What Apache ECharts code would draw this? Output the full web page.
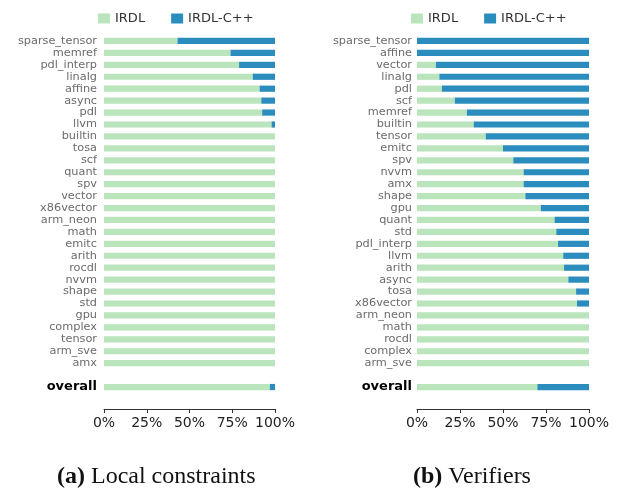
<!DOCTYPE html>
<html>
<head>
<meta charset="utf-8">
<script src="https://cdn.jsdelivr.net/npm/echarts@6/dist/echarts.min.js"></script>
<style>
html,body{margin:0;padding:0;background:#fff;}
#c{width:620px;height:494px;}
</style>
</head>
<body>
<div id="c"></div>
<script>
// ---- data ----
const localCategories = ['sparse_tensor','memref','pdl_interp','linalg','affine','async','pdl','llvm','builtin','tosa','scf','quant','spv','vector','x86vector','arm_neon','math','emitc','arith','rocdl','nvvm','shape','std','gpu','complex','tensor','arm_sve','amx','','overall'];
const localIRDL = [43,74,79,87,91,92,92.5,98,100,100,100,100,100,100,100,100,100,100,100,100,100,100,100,100,100,100,100,100,null,97];
const localCpp  = [57,26,21,13,9,8,7.5,2,0,0,0,0,0,0,0,0,0,0,0,0,0,0,0,0,0,0,0,0,null,3];

const verifCategories = ['sparse_tensor','affine','vector','linalg','pdl','scf','memref','builtin','tensor','emitc','spv','nvvm','amx','shape','gpu','quant','std','pdl_interp','llvm','arith','async','tosa','x86vector','arm_neon','math','rocdl','complex','arm_sve','','overall'];
const verifIRDL = [0,0,11,13,14.5,22,29,33,40,50,56,62,62,63,72,80,81,82,85,85.5,88,92.5,93,100,100,100,100,100,null,70];
const verifCpp  = [100,100,89,87,85.5,78,71,67,60,50,44,38,38,37,28,20,19,18,15,14.5,12,7.5,7,0,0,0,0,0,null,30];

const xTicks = [0,25,50,75,100];
const seriesNames = ['IRDL','IRDL-C++'];
const captions = ['(a)', 'Local constraints', '(b)', 'Verifiers'];

const GREEN = '#bae4bc', BLUE = '#2b8cbe';

function yAxis(gridIndex, cats, margin){
  return {
    type:'category', gridIndex, data:cats, inverse:true,
    axisLine:{show:false}, axisTick:{show:false}, splitLine:{show:false},
    axisLabel:{
      interval:0, margin, color:'#6b6b6b', fontSize:11.3, fontFamily:'DejaVu Sans',
      formatter:v => v==='overall' ? '{b|overall}' : v,
      rich:{b:{fontWeight:'bold', color:'#000', fontSize:13, fontFamily:'DejaVu Sans'}}
    }
  };
}
function xAxis(gridIndex){
  return {
    type:'value', gridIndex, min:xTicks[0], max:xTicks[xTicks.length-1], interval:25,
    offset:16,
    axisLine:{show:true, lineStyle:{color:'#333', width:1}},
    axisTick:{show:true, length:4, lineStyle:{color:'#333'}},
    splitLine:{show:false},
    axisLabel:{formatter:'{value}%', color:'#222', fontSize:14, fontFamily:'DejaVu Sans', margin:7}
  };
}
function bar(name, xi, data, color, stack){
  return {name, type:'bar', xAxisIndex:xi, yAxisIndex:xi, data, stack, barWidth:'52%',
    itemStyle:{color}, emphasis:{disabled:true}, silent:true};
}

const chart = echarts.init(document.getElementById('c'), null, {renderer:'canvas'});
const legendBase = {
  data:seriesNames, icon:'rect', itemWidth:12, itemHeight:10, itemGap:26,
  textStyle:{color:'#333', fontSize:13, fontFamily:'DejaVu Sans'}, top:7, selectedMode:false
};
const capFont = '24px "Liberation Serif"', capBold = 'bold 24px "Liberation Serif"';
chart.setOption({
  animation:false,
  legend:[ Object.assign({left:93}, legendBase), Object.assign({left:406}, legendBase) ],
  grid:[
    {left:104, right:345, top:35, bottom:101},
    {left:417, right:31, top:35, bottom:101}
  ],
  xAxis:[xAxis(0), xAxis(1)],
  yAxis:[yAxis(0, localCategories, 7), yAxis(1, verifCategories, 5)],
  series:[
    bar(seriesNames[0], 0, localIRDL, GREEN, 'a'),
    bar(seriesNames[1], 0, localCpp, BLUE, 'a'),
    bar(seriesNames[0], 1, verifIRDL, GREEN, 'b'),
    bar(seriesNames[1], 1, verifCpp, BLUE, 'b')
  ],
  graphic:[
    {type:'text', left:57, top:465, style:{
      text:'{b|' + captions[0] + '} ' + captions[1],
      font:capFont, fill:'#111',
      rich:{b:{font:capBold, fill:'#111'}}
    }},
    {type:'text', left:413, top:465, style:{
      text:'{b|' + captions[2] + '} ' + captions[3],
      font:capFont, fill:'#111',
      rich:{b:{font:capBold, fill:'#111'}}
    }}
  ]
});
</script>
</body>
</html>
